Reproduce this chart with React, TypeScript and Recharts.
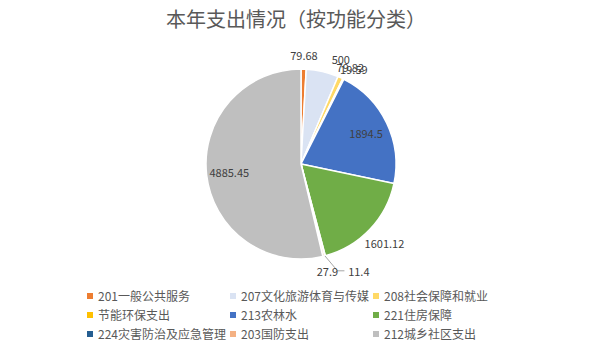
import { PieChart, Pie, Cell, Legend } from 'recharts'

const title = '本年支出情况（按功能分类）'

const categories = [
  '201一般公共服务',
  '207文化旅游体育与传媒',
  '208社会保障和就业',
  '节能环保支出',
  '213农林水',
  '221住房保障',
  '224灾害防治及应急管理',
  '203国防支出',
  '212城乡社区支出',
]

const amounts = [79.68, 500, 79.82, 19.59, 1894.5, 1601.12, 11.4, 27.9, 4885.45]

const colors = [
  '#ED7D31',
  '#DAE3F3',
  '#FFD966',
  '#FFC000',
  '#4472C4',
  '#70AD47',
  '#255E91',
  '#F4B183',
  '#BFBFBF',
]

// labels drawn inside the slice (big ones), the rest go outside
const insideLabels = ['213农林水', '212城乡社区支出']
// this one gets pushed right with a leader line, like excel does
const pushedLabel = '224灾害防治及应急管理'
// small nudges excel applies to crowded labels
const labelNudge: Record<string, [number, number]> = {
  '207文化旅游体育与传媒': [15, 2],
  '208社会保障和就业': [3, 5],
  '节能环保支出': [3, 5],
}

const data = categories.map((name, i) => ({ name, value: amounts[i] }))

const FONT = '"Noto Sans CJK SC", "Noto Sans", sans-serif'
const RAD = Math.PI / 180

function LabelText({ x, y, text }: { x: number; y: number; text: string }) {
  return (
    <text
      x={x}
      y={y}
      fill="#404040"
      fontSize={11}
      fontFamily={FONT}
      textAnchor="middle"
      dominantBaseline="central"
    >
      {text}
    </text>
  )
}

function renderLabel(props: any) {
  const { cx, cy, midAngle, outerRadius, value, name } = props
  const cos = Math.cos(-midAngle * RAD)
  const sin = Math.sin(-midAngle * RAD)
  const text = String(value)
  const hw = text.length * 3.1
  const hh = 6

  if (insideLabels.includes(name)) {
    const d = outerRadius * 0.76
    return <LabelText x={cx + d * cos} y={cy + d * sin} text={text} />
  }

  const nudge = labelNudge[name] || [0, 0]
  const d = outerRadius + 8 + hw * 0.5 * Math.abs(cos) + hh * Math.abs(sin)
  let x = cx + d * cos + nudge[0]
  const y = cy + d * sin + nudge[1]

  if (name === pushedLabel) {
    x += 30
    const ex = cx + outerRadius * cos
    const ey = cy + outerRadius * sin
    return (
      <g>
        <polyline
          points={`${ex},${ey} ${x - hw - 9},${y} ${x - hw - 2},${y}`}
          fill="none"
          stroke="#A6A6A6"
          strokeWidth={1}
        />
        <LabelText x={x} y={y} text={text} />
      </g>
    )
  }

  return <LabelText x={x} y={y} text={text} />
}

function LegendGrid() {
  return (
    <div
      style={{
        display: 'grid',
        gridTemplateColumns: '143px 143px 143px',
        gridAutoRows: '19px',
        paddingLeft: 87,
        fontFamily: FONT,
        fontSize: 12,
        color: '#595959',
      }}
    >
      {categories.map((name, i) => (
        <div key={name} style={{ display: 'flex', alignItems: 'center', whiteSpace: 'nowrap' }}>
          <span
            style={{
              width: 6,
              height: 6,
              flexShrink: 0,
              background: colors[i],
              marginRight: 5,
              display: 'inline-block',
            }}
          />
          {name}
        </div>
      ))}
    </div>
  )
}

export default function App() {
  return (
    <div
      style={{
        position: 'absolute',
        left: 0,
        top: 0,
        width: 592,
        height: 352,
        background: '#fff',
      }}
    >
      <div
        style={{
          position: 'absolute',
          top: 6,
          width: 592,
          textAlign: 'center',
          fontFamily: FONT,
          fontSize: 20,
          color: '#595959',
          lineHeight: '26px',
        }}
      >
        {title}
      </div>
      <PieChart width={592} height={352}>
        <Pie
          data={data}
          dataKey="value"
          nameKey="name"
          cx={296}
          cy={159}
          outerRadius={95}
          startAngle={90}
          endAngle={-270}
          stroke="#fff"
          strokeWidth={1.5}
          label={renderLabel}
          labelLine={false}
          isAnimationActive={false}
        >
          {data.map((entry, i) => (
            <Cell key={entry.name} fill={colors[i]} />
          ))}
        </Pie>
        <Legend
          content={() => <LegendGrid />}
          wrapperStyle={{ left: 0, top: 286, width: 592 }}
        />
      </PieChart>
    </div>
  )
}
